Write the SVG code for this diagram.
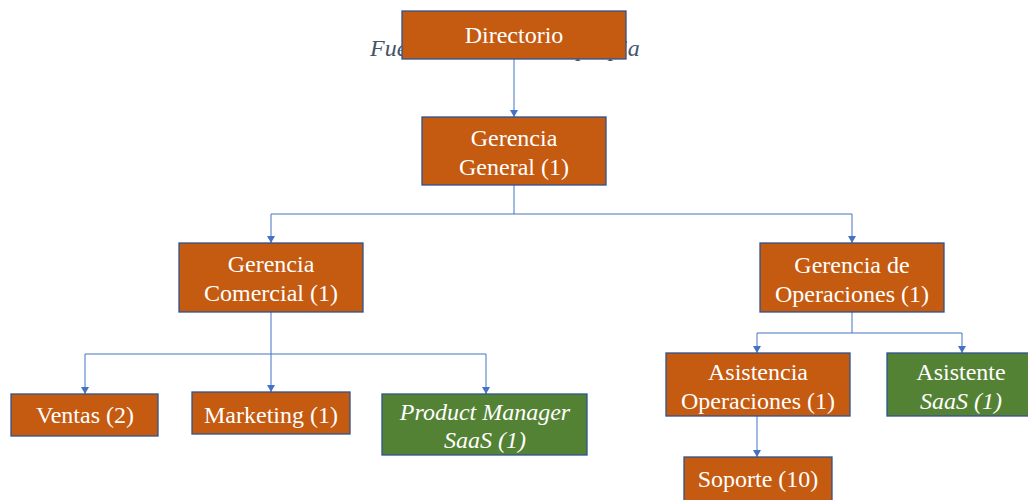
<svg xmlns="http://www.w3.org/2000/svg" width="1028" height="500" viewBox="0 0 1028 500">
  <style>
    .box { stroke: #2F528F; stroke-width: 1.3; }
    .orange { fill: #C55A11; }
    .green { fill: #548235; }
    .lbl { font-size: 24px; fill: #FFFFFF; text-anchor: middle; }
    .it { font-style: italic; }
    .src { font-size: 24px; font-style: italic; fill: #44546A; }
    .conn { fill: none; stroke: #4472C4; stroke-width: 1; }
  </style>
  <defs>
    <marker id="arrow" viewBox="0 0 7 8" refX="7" refY="4" markerWidth="7" markerHeight="8" markerUnits="userSpaceOnUse" orient="auto">
      <path d="M0,0 L7,4 L0,8 Z" fill="#4472C4"/>
    </marker>
  </defs>
  <rect width="1028" height="500" fill="#FFFFFF"/>

  <g font-family="'Liberation Serif', Tinos, 'DejaVu Serif', serif">
    <!-- source caption, partly covered by the top box -->
    <text class="src" x="370" y="56">Fuente: Elaboración propia</text>

    <!-- connectors -->
    <g id="connectors">
      <line class="conn" x1="514" y1="59" x2="514" y2="117" marker-end="url(#arrow)"/>
      <path class="conn" d="M514,185 V214 M271,214 H852"/>
      <line class="conn" x1="271" y1="214" x2="271" y2="243" marker-end="url(#arrow)"/>
      <line class="conn" x1="852" y1="214" x2="852" y2="243" marker-end="url(#arrow)"/>
      <path class="conn" d="M271,312 V354 M85,354 H486"/>
      <line class="conn" x1="85" y1="354" x2="85" y2="394" marker-end="url(#arrow)"/>
      <line class="conn" x1="271" y1="354" x2="271" y2="392" marker-end="url(#arrow)"/>
      <line class="conn" x1="486" y1="354" x2="486" y2="394" marker-end="url(#arrow)"/>
      <path class="conn" d="M852,312 V333 M757,333 H962"/>
      <line class="conn" x1="757" y1="333" x2="757" y2="353" marker-end="url(#arrow)"/>
      <line class="conn" x1="962" y1="333" x2="962" y2="353" marker-end="url(#arrow)"/>
      <line class="conn" x1="757" y1="416" x2="757" y2="457" marker-end="url(#arrow)"/>
    </g>

    <g id="directorio">
      <rect class="box orange" x="402" y="11" width="224" height="48"/>
      <text class="lbl" x="514" y="43">Directorio</text>
    </g>

    <g id="gerencia-general">
      <rect class="box orange" x="422" y="117" width="184" height="68"/>
      <text class="lbl" x="514" y="146">Gerencia</text>
      <text class="lbl" x="514" y="175">General (1)</text>
    </g>

    <g id="gerencia-comercial">
      <rect class="box orange" x="179" y="243" width="184" height="69"/>
      <text class="lbl" x="271" y="272">Gerencia</text>
      <text class="lbl" x="271" y="301">Comercial (1)</text>
    </g>

    <g id="gerencia-operaciones">
      <rect class="box orange" x="760" y="243" width="184" height="69"/>
      <text class="lbl" x="852" y="273">Gerencia de</text>
      <text class="lbl" x="852" y="302">Operaciones (1)</text>
    </g>

    <g id="ventas">
      <rect class="box orange" x="11" y="394" width="147" height="42"/>
      <text class="lbl" x="85" y="423">Ventas (2)</text>
    </g>

    <g id="marketing">
      <rect class="box orange" x="192" y="392" width="158" height="42"/>
      <text class="lbl" x="271" y="423">Marketing (1)</text>
    </g>

    <g id="product-manager">
      <rect class="box green" x="382" y="394" width="205" height="61"/>
      <text class="lbl it" x="485" y="420">Product Manager</text>
      <text class="lbl it" x="485" y="448">SaaS (1)</text>
    </g>

    <g id="asistencia-operaciones">
      <rect class="box orange" x="666" y="353" width="184" height="63"/>
      <text class="lbl" x="758" y="380">Asistencia</text>
      <text class="lbl" x="758" y="409">Operaciones (1)</text>
    </g>

    <g id="asistente-saas">
      <rect class="box green" x="887" y="353" width="150" height="63"/>
      <text class="lbl" x="961" y="380">Asistente</text>
      <text class="lbl it" x="961" y="409">SaaS (1)</text>
    </g>

    <g id="soporte">
      <rect class="box orange" x="684" y="457" width="148" height="46"/>
      <text class="lbl" x="758" y="487">Soporte (10)</text>
    </g>
  </g>
</svg>
